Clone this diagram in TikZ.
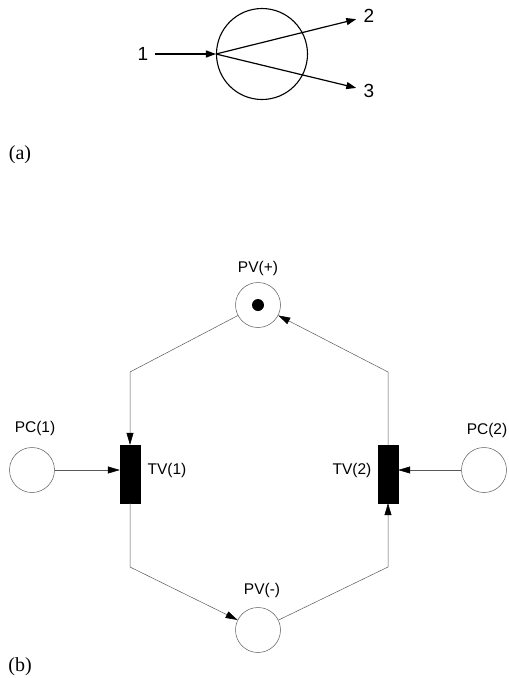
\documentclass[tikz,border=0pt]{standalone}
\usepackage{fontspec}
\setmainfont{Liberation Serif}
\setsansfont{Liberation Sans}
\usetikzlibrary{arrows.meta,positioning,calc}

\begin{document}
\begin{tikzpicture}[
    x=1pt, y=-1pt,
    every node/.style={font=\sffamily\fontsize{15.5}{18}\selectfont},
    bigplace/.style={circle, draw=black, line width=1.1pt, minimum size=91pt, inner sep=0pt},
    place/.style={circle, draw=black!65, line width=0.5pt, minimum size=45pt, inner sep=0pt},
    token/.style={circle, fill=black, minimum size=12pt, inner sep=0pt},
    trans/.style={rectangle, fill=black, draw=black, minimum width=20pt, minimum height=58pt, inner sep=0pt},
    arrA/.style={-{Triangle[length=10pt, width=7pt]}, line width=1.2pt},
    arc/.style={-{Triangle[length=12pt, width=7pt, black]}, line width=0.5pt, draw=black!65},
    numlabel/.style={font=\sffamily\fontsize{19}{22}\selectfont},
    sublabel/.style={font=\rmfamily\fontsize{20}{22}\selectfont}
]
\useasboundingbox (0,0) rectangle (509,678);

% (a) -- one place, one input, two outputs
\node[bigplace] (split) at (262,54) {};
\node[numlabel] (in1)  at (143,54) {1};
\node[numlabel] (out2) at (369,16) {2};
\node[numlabel] (out3) at (369,91) {3};
\draw[arrA, shorten <=3pt] (in1) -- (split.west);
\draw[arrA, shorten >=4pt] (split.west) -- (out2);
\draw[arrA, shorten >=4pt] (split.west) -- (out3);
\node[sublabel] (suba) at (20,155) {(a)};

% (b) -- places
\node[place] (pvp) at (258,305) {};
\node[token] (tok) at (pvp) {};
\node[place] (pvm) at (258,630) {};
\node[place] (pc1) at (32,470) {};
\node[place] (pc2) at (484,470) {};

% (b) -- transitions
\node[trans] (tv1) at (130,474) {};
\node[trans] (tv2) at (388,474) {};

% (b) -- labels
\node (lpvp) at (258,268) {PV(+)};
\node (lpvm) at (262,590) {PV(-)};
\node (lpc1) at (35,428) {PC(1)};
\node (lpc2) at (487,430) {PC(2)};
\node (ltv1) at (167,470) {TV(1)};
\node (ltv2) at (352,470) {TV(2)};

% bends
\coordinate (nw) at (130,372);
\coordinate (ne) at (388,372);
\coordinate (sw) at (130,567);
\coordinate (se) at (388,567);

% (b) -- arcs
\draw[arc] (pvp) -- (nw) -- (tv1);
\draw[arc] (tv2) -- (ne) -- (pvp);
\draw[arc] (tv1) -- (sw) -- (pvm);
\draw[arc] (pvm) -- (se) -- (tv2);
\draw[arc] (pc1) -- (pc1 -| tv1.west);
\draw[arc] (pc2) -- (pc2 -| tv2.east);

\node[sublabel] (subb) at (20,667) {(b)};
\end{tikzpicture}
\end{document}
